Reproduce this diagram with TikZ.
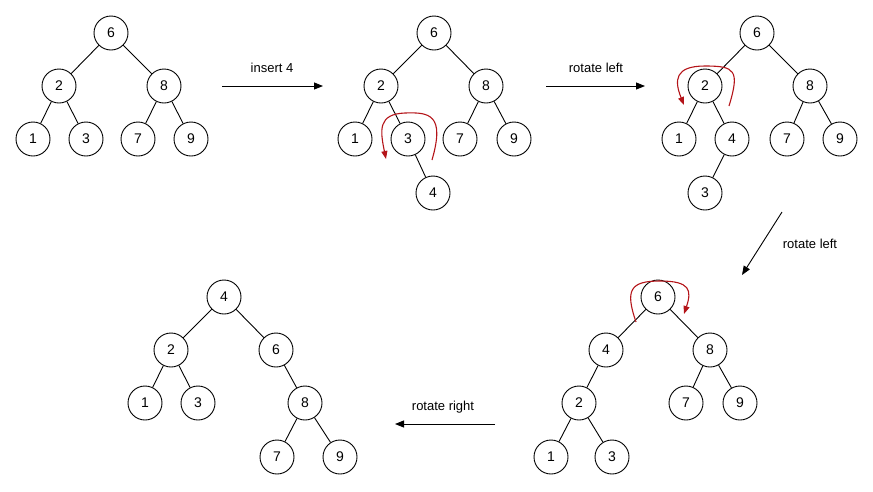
\documentclass[tikz,border=0pt]{standalone}
\usepackage{fontspec}
\setmainfont{Liberation Sans}
\usetikzlibrary{arrows.meta}
\definecolor{rot}{RGB}{180,20,25}
\begin{document}
\begin{tikzpicture}[x=1pt,y=-1pt,
  nd/.style={circle,draw,line width=0.9pt,minimum size=34pt,inner sep=0pt,font=\fontsize{14}{16}\selectfont},
  ed/.style={line width=0.9pt},
  op/.style={line width=0.9pt,-{Triangle[length=9pt,width=7pt]}},
  lb/.style={font=\fontsize{13}{15}\selectfont},
  rc/.style={rot,line width=1.1pt,-{Triangle[length=8pt,width=6pt]}}]
\useasboundingbox (0,0) rectangle (873,491);
% tree 1
\node[nd] (a6) at (111,33) {6};
\node[nd] (a2) at (59,86) {2};
\node[nd] (a8) at (164,86) {8};
\node[nd] (a1) at (33,139) {1};
\node[nd] (a3) at (86,139) {3};
\node[nd] (a7) at (138,139) {7};
\node[nd] (a9) at (191,139) {9};
\draw[ed] (a6)--(a2) (a6)--(a8) (a2)--(a1) (a2)--(a3) (a8)--(a7) (a8)--(a9);
% tree 2
\node[nd] (b6) at (434,33) {6};
\node[nd] (b2) at (381,86) {2};
\node[nd] (b8) at (486,86) {8};
\node[nd] (b1) at (355,139) {1};
\node[nd] (b3) at (408,139) {3};
\node[nd] (b7) at (460,139) {7};
\node[nd] (b9) at (514,139) {9};
\node[nd] (b4) at (433,193) {4};
\draw[ed] (b6)--(b2) (b6)--(b8) (b2)--(b1) (b2)--(b3) (b8)--(b7) (b8)--(b9) (b3)--(b4);
% tree 3
\node[nd] (c6) at (757,33) {6};
\node[nd] (c2) at (705,86) {2};
\node[nd] (c8) at (810,86) {8};
\node[nd] (c1) at (679,139) {1};
\node[nd] (c4) at (732,139) {4};
\node[nd] (c7) at (787,139) {7};
\node[nd] (c9) at (840,139) {9};
\node[nd] (c3) at (705,193) {3};
\draw[ed] (c6)--(c2) (c6)--(c8) (c2)--(c1) (c2)--(c4) (c8)--(c7) (c8)--(c9) (c4)--(c3);
% tree 4
\node[nd] (d6) at (658,297) {6};
\node[nd] (d4) at (606,350) {4};
\node[nd] (d8) at (710,350) {8};
\node[nd] (d2) at (579,403) {2};
\node[nd] (d7) at (686,403) {7};
\node[nd] (d9) at (740,403) {9};
\node[nd] (d1) at (551,457) {1};
\node[nd] (d3) at (612,457) {3};
\draw[ed] (d6)--(d4) (d6)--(d8) (d4)--(d2) (d8)--(d7) (d8)--(d9) (d2)--(d1) (d2)--(d3);
% tree 5
\node[nd] (e4) at (224,297) {4};
\node[nd] (e2) at (171,350) {2};
\node[nd] (e6) at (276,350) {6};
\node[nd] (e1) at (145,403) {1};
\node[nd] (e3) at (198,403) {3};
\node[nd] (e8) at (305,403) {8};
\node[nd] (e7) at (277,457) {7};
\node[nd] (e9) at (340,457) {9};
\draw[ed] (e4)--(e2) (e4)--(e6) (e2)--(e1) (e2)--(e3) (e6)--(e8) (e8)--(e7) (e8)--(e9);
% operation arrows
\coordinate (p1) at (222,86); \coordinate (q1) at (323,86);
\draw[op] (p1)--(q1);
\node[lb] at (272,68) {insert 4};
\coordinate (p2) at (546,86); \coordinate (q2) at (645,86);
\draw[op] (p2)--(q2);
\node[lb] at (596,68) {rotate left};
\coordinate (p3) at (782,212); \coordinate (q3) at (742,275);
\draw[op] (p3)--(q3);
\node[lb] at (810,244) {rotate left};
\coordinate (p4) at (495,424); \coordinate (q4) at (395,424);
\draw[op] (p4)--(q4);
\node[lb] at (443,407) {rotate right};
% red rotation arrows
\draw[rc] (432,160) .. controls (445,115) and (430,112) .. (405,113) .. controls (378,114) and (380,130) .. (386,159);
\draw[rc] (729,106) .. controls (740,70) and (735,66) .. (705,66) .. controls (675,66) and (674,80) .. (684,105);
\draw[rc] (636,322) .. controls (625,290) and (630,281) .. (660,281) .. controls (690,281) and (692,290) .. (684,314);
\end{tikzpicture}
\end{document}
